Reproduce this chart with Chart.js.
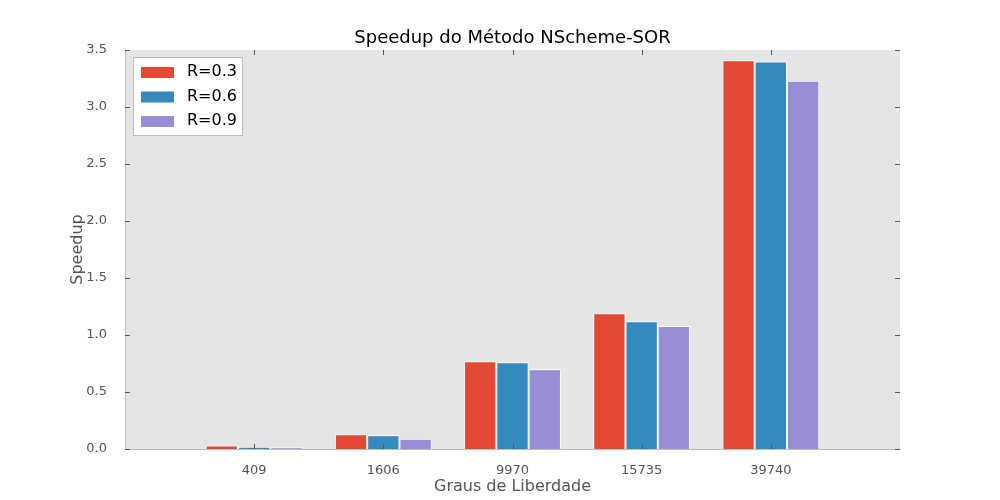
<!DOCTYPE html>
<html><head><meta charset="utf-8">
<script src="https://cdn.jsdelivr.net/npm/chart.js@4"></script>
<style>body{margin:0;background:#fff}#w{width:1000px;height:500px}</style></head>
<body><div id="w"><canvas id="c"></canvas></div>
<script>
const categories=['409','1606','9970','15735','39740'];
const seriesLabels=['R=0.3','R=0.6','R=0.9'];
const r03=[0.03,0.13,0.77,1.19,3.41];
const r06=[0.02,0.12,0.76,1.12,3.40];
const r09=[0.015,0.09,0.70,1.08,3.23];
const yTicks=[0,0.5,1,1.5,2,2.5,3,3.5];
const colors=['#E24A33','#348ABD','#988ED5'];
const font='DejaVu Sans';
const mk=(v)=>v.map((y,i)=>({x:i+1,y}));
const deco={id:'deco',
 beforeDraw(ch){const a=ch.chartArea,c=ch.ctx;c.save();c.fillStyle='#E5E5E5';c.fillRect(a.left,a.top,a.right-a.left,a.bottom-a.top);c.restore();},
 afterDraw(ch){const a=ch.chartArea,c=ch.ctx;c.save();
  c.strokeStyle='#555';c.lineWidth=1;
  const ys=ch.scales.y,xs=ch.scales.x;
  yTicks.forEach(t=>{const y=Math.round(ys.getPixelForValue(t))+0.5;c.beginPath();c.moveTo(a.left,y);c.lineTo(a.left+5,y);c.moveTo(a.right,y);c.lineTo(a.right-5,y);c.stroke();});
  categories.forEach((t,i)=>{const x=Math.round(xs.getPixelForValue(i+1))+0.5;c.beginPath();c.moveTo(x,a.bottom);c.lineTo(x,a.bottom-5);c.moveTo(x,a.top);c.lineTo(x,a.top+5);c.stroke();});
  c.fillStyle='#000';c.font='18px "'+font+'"';c.textAlign='center';c.textBaseline='alphabetic';
  c.fillText('Speedup do Método NScheme-SOR',(a.left+a.right)/2,43);
  c.fillStyle='#555';c.font='16px "'+font+'"';c.textBaseline='middle';
  c.translate(78,(a.top+a.bottom)/2);c.rotate(-Math.PI/2);c.fillText('Speedup',0,0);c.setTransform(1,0,0,1,0,0);
  c.scale(ch.currentDevicePixelRatio||1,ch.currentDevicePixelRatio||1);
  // legend
  c.fillStyle='#fff';c.strokeStyle='#bbb';c.fillRect(133.5,57.5,109,78);c.strokeRect(133.5,57.5,109,78);
  c.font='16px "'+font+'"';c.textAlign='left';c.textBaseline='middle';
  seriesLabels.forEach((l,i)=>{const y=72+i*24.5;c.fillStyle=colors[i];c.fillRect(141,y-5,33,11);c.fillStyle='#000';c.fillText(l,187,y);});
  c.restore();}};
new Chart(document.getElementById('c'),{type:'bar',
 data:{datasets:[r03,r06,r09].map((d,i)=>({label:seriesLabels[i],data:mk(d),backgroundColor:colors[i],borderColor:'#fff',borderWidth:1,categoryPercentage:0.75,barPercentage:1}))},
 options:{responsive:true,maintainAspectRatio:false,animation:false,
  layout:{padding:{top:50,right:100,left:0,bottom:0}},
  plugins:{legend:{display:false},title:{display:false},tooltip:{enabled:false}},
  scales:{
   x:{type:'linear',min:0,max:6,offset:false,grid:{display:false,offset:false},border:{color:'#bbb'},
    afterBuildTicks(s){s.ticks=categories.map((c,i)=>({value:i+1}));},
    afterFit(s){s.height=51;},
    ticks:{color:'#555',font:{family:font,size:13},padding:6,callback:(v)=>categories[v-1]??''},
    title:{display:true,text:'Graus de Liberdade',color:'#555',font:{family:font,size:16},padding:{top:0}}},
   y:{min:0,max:3.5,grid:{display:false},border:{color:'#bbb'},
    afterBuildTicks(s){s.ticks=yTicks.map(v=>({value:v}));},
    afterFit(s){s.width=125;},
    ticks:{color:'#555',font:{family:font,size:13},padding:10,callback:(v)=>v.toFixed(1)},
    title:{display:false}}}},
 plugins:[deco]});
</script></body></html>
